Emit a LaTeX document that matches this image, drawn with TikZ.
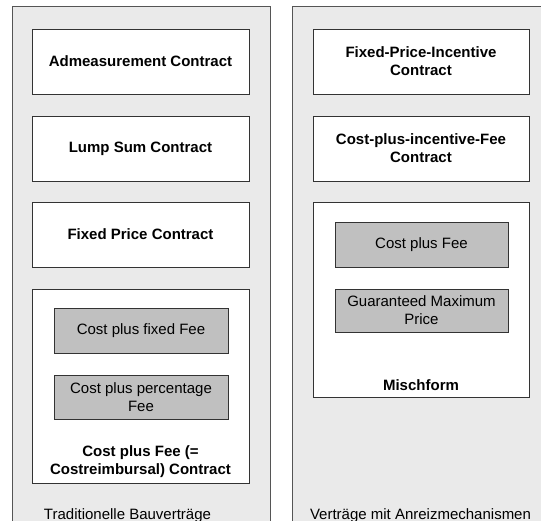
\documentclass[tikz,border=0pt]{standalone}
\usepackage{fontspec}
\setmainfont{Liberation Sans}
\definecolor{panelfill}{HTML}{EAEAEA}
\definecolor{panelline}{HTML}{555555}
\definecolor{boxline}{HTML}{333333}
\definecolor{grayfill}{HTML}{C0C0C0}
\begin{document}
\begin{tikzpicture}[x=1pt,y=-1pt,
  panel/.style={draw=panelline,fill=panelfill,line width=1pt},
  wbox/.style={draw=boxline,fill=white,line width=0.8pt,inner sep=0pt,align=center,
    font=\fontsize{15}{18}\selectfont\bfseries},
  gbox/.style={draw=boxline,fill=grayfill,line width=0.8pt,inner sep=0pt,align=center,
    font=\fontsize{15}{18}\selectfont},
  lbl/.style={inner sep=0pt,align=center,font=\fontsize{15}{18}\selectfont},
  blbl/.style={inner sep=0pt,align=center,font=\fontsize{15}{18}\selectfont\bfseries}]
\useasboundingbox (0,0) rectangle (541,521);
\fill[white] (0,0) rectangle (541,521);
\begin{scope}
\clip (0,0) rectangle (541,521);
% panels
\draw[panel] (12,7) rectangle (270,530);
\draw[panel] (292,7) rectangle (550,530);
\end{scope}
% left panel
\node[wbox,minimum width=217,minimum height=65] (adm) at (140.5,61.5) {Admeasurement Contract};
\node[wbox,minimum width=217,minimum height=65] (lump) at (140.5,148.5) {Lump Sum Contract};
\node[wbox,minimum width=217,minimum height=65] (fixed) at (140.5,234.5) {Fixed Price Contract};
\node[draw=boxline,fill=white,line width=0.8pt,inner sep=0pt,minimum width=217,minimum height=194] (cpf) at (140.5,386) {};
\node[gbox,minimum width=174,minimum height=45] (cpff) at (141,330.5) {Cost plus fixed Fee};
\node[gbox,minimum width=174,minimum height=44] (cppf) at (141,397) {Cost plus percentage\\Fee};
\node[blbl] (cpflbl) at (140.5,462) {Cost plus Fee (=\\Costreimbursal) Contract};
\node[lbl] (trad) at (127.5,516) {Traditionelle Bauverträge};
% right panel
\node[wbox,minimum width=216,minimum height=65] (fpi) at (421,61.5) {Fixed-Price-Incentive\\Contract};
\node[wbox,minimum width=216,minimum height=65] (cpi) at (421,148.5) {Cost-plus-incentive-Fee\\Contract};
\node[draw=boxline,fill=white,line width=0.8pt,inner sep=0pt,minimum width=216,minimum height=195] (misch) at (421,299.5) {};
\node[gbox,minimum width=173,minimum height=45] (cpfee) at (421.5,244.5) {Cost plus Fee};
\node[gbox,minimum width=173,minimum height=43] (gmp) at (421.5,310.5) {Guaranteed Maximum\\Price};
\node[blbl] (mischlbl) at (421,385) {Mischform};
\node[lbl] (anreiz) at (420.5,516) {Verträge mit Anreizmechanismen};
\end{tikzpicture}
\end{document}
